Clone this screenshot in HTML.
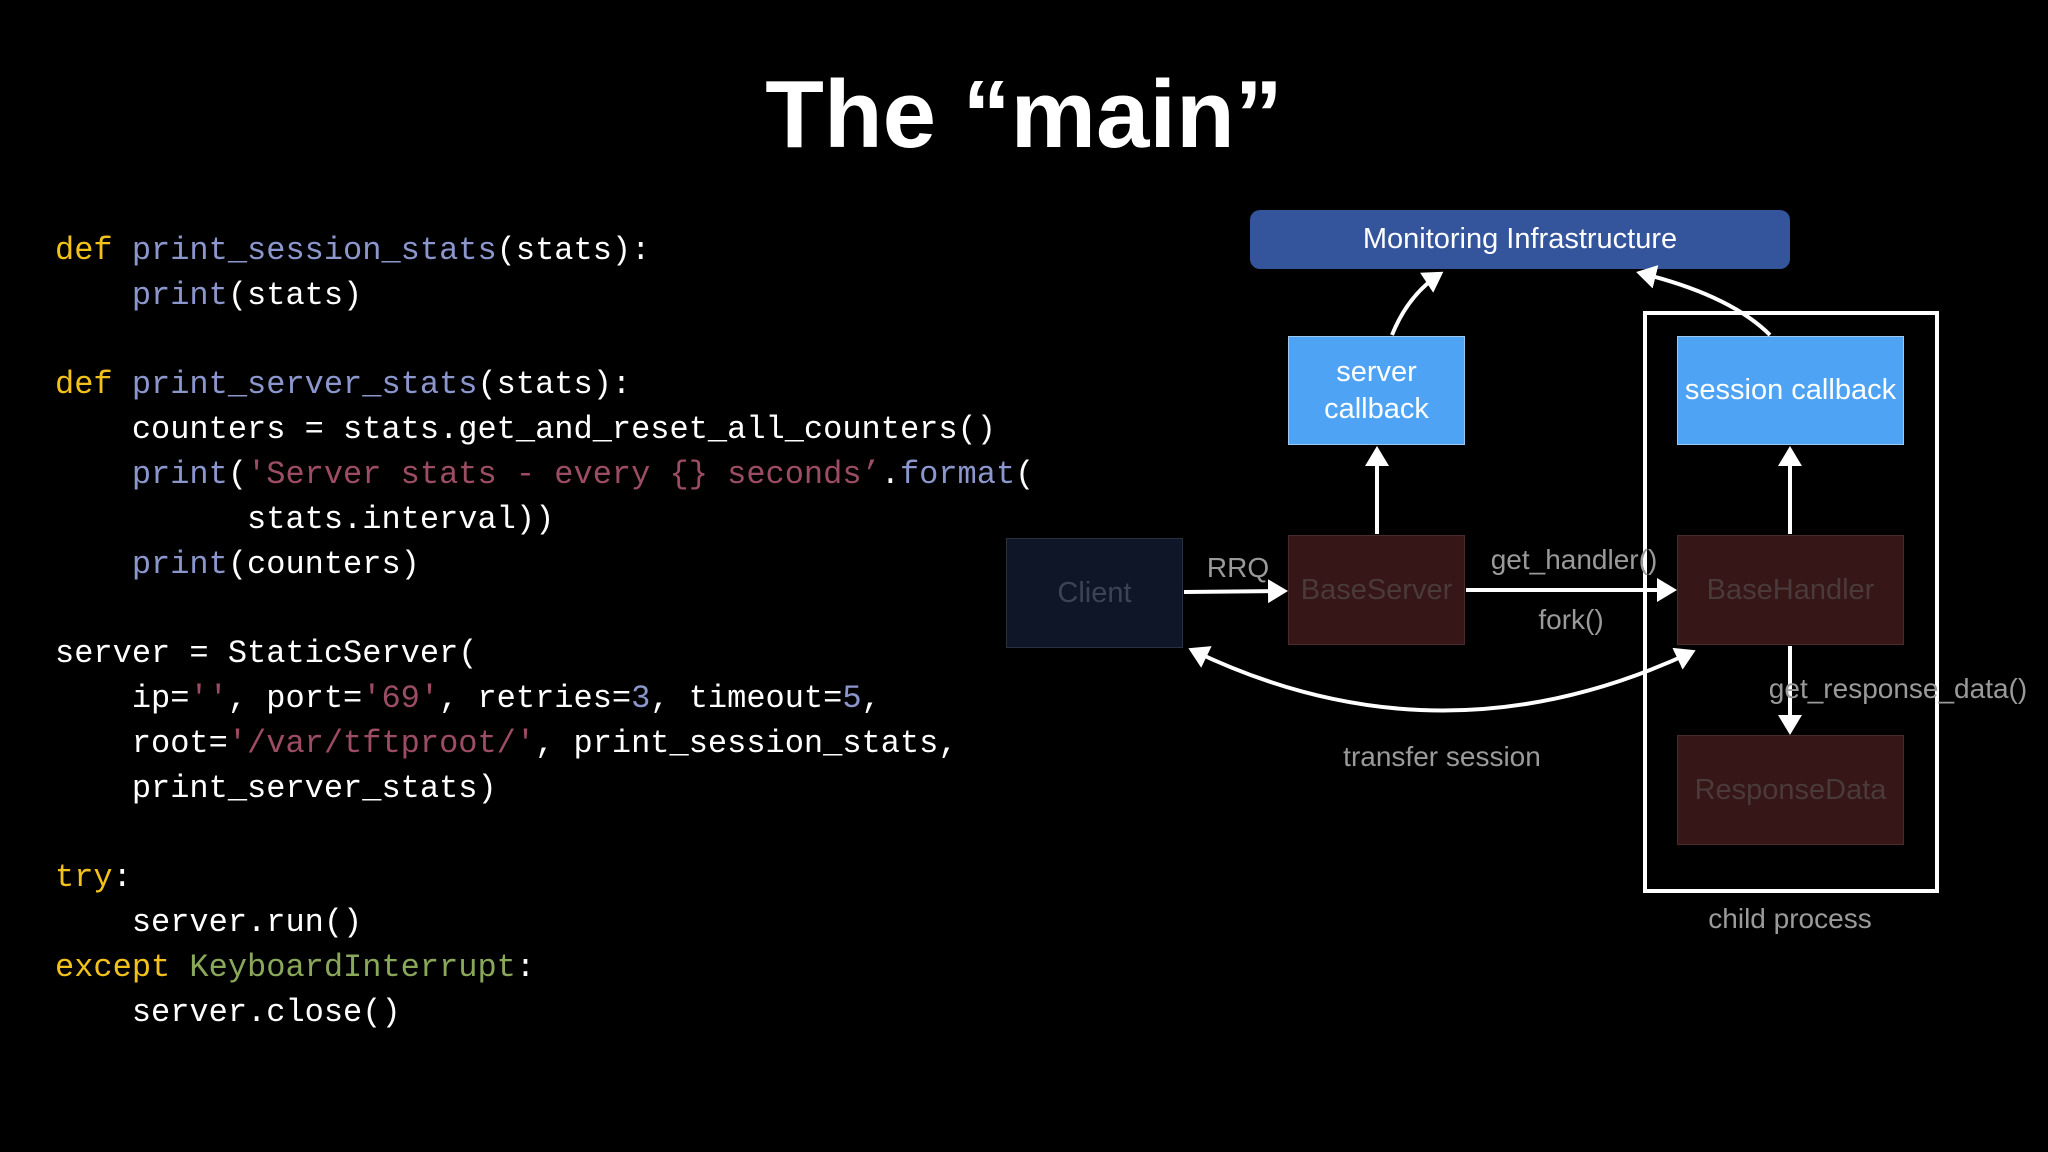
<!DOCTYPE html>
<html><head><meta charset="utf-8"><style>
html,body{margin:0;padding:0;background:#000;}
body{width:2048px;height:1152px;position:relative;overflow:hidden;font-family:"Liberation Sans",sans-serif;}
.t{position:absolute;left:0;width:2048px;top:60px;text-align:center;color:#fff;font-weight:bold;font-size:96px;}
pre{position:absolute;left:55px;top:229px;margin:0;font-family:"Liberation Mono",monospace;font-size:32px;line-height:44.8px;color:#fff;}
.k{color:#f2c21b}.f{color:#8b96cc}.s{color:#9c4d63}.g{color:#8aa85a}
.b{position:absolute;box-sizing:border-box;display:flex;align-items:center;justify-content:center;text-align:center;font-size:29px;line-height:37px;}
.l{position:absolute;color:#9a9a9a;font-size:28px;transform:translate(-50%,-50%);white-space:nowrap;}
</style></head><body>
<div class="t">The “main”</div>
<pre><span class="k">def</span> <span class="f">print_session_stats</span>(stats):
    <span class="f">print</span>(stats)

<span class="k">def</span> <span class="f">print_server_stats</span>(stats):
    counters = stats.get_and_reset_all_counters()
    <span class="f">print</span>(<span class="s">'Server stats - every {} seconds’</span>.<span class="f">format</span>(
          stats.interval))
    <span class="f">print</span>(counters)

server = StaticServer(
    ip=<span class="s">''</span>, port=<span class="s">'69'</span>, retries=<span class="f">3</span>, timeout=<span class="f">5</span>,
    root=<span class="s">'/var/tftproot/'</span>, print_session_stats,
    print_server_stats)

<span class="k">try</span>:
    server.run()
<span class="k">except</span> <span class="g">KeyboardInterrupt</span>:
    server.close()</pre>

<div class="b" style="left:1250px;top:210px;width:540px;height:59px;background:#34549b;border-radius:10px;color:#fff;">Monitoring Infrastructure</div>
<div class="b" style="left:1288px;top:336px;width:177px;height:109px;background:#4ea3f5;border:1px solid #9cc8f0;color:#fff;">server<br>callback</div>
<div class="b" style="left:1677px;top:336px;width:227px;height:109px;background:#4ea3f5;border:1px solid #9cc8f0;color:#fff;">session callback</div>
<div class="b" style="left:1006px;top:538px;width:177px;height:110px;background:#0f1627;border:1px solid #2a3040;color:#3c4454;">Client</div>
<div class="b" style="left:1288px;top:535px;width:177px;height:110px;background:#361616;border:1px solid #4a2a2a;color:#4a3a3a;">BaseServer</div>
<div class="b" style="left:1677px;top:535px;width:227px;height:110px;background:#361616;border:1px solid #4a2a2a;color:#4a3a3a;">BaseHandler</div>
<div class="b" style="left:1677px;top:735px;width:227px;height:110px;background:#361616;border:1px solid #4a2a2a;color:#4a3a3a;">ResponseData</div>
<div style="position:absolute;left:1643px;top:311px;width:296px;height:582px;box-sizing:border-box;border:4px solid #fff;"></div>

<svg width="2048" height="1152" style="position:absolute;left:0;top:0">
<defs><marker id="a" markerWidth="6" markerHeight="6" refX="4" refY="3" orient="auto" markerUnits="strokeWidth"><path d="M0,0L5,3L0,6z" fill="#fff"/></marker>
<marker id="as" markerWidth="6" markerHeight="6" refX="1" refY="3" orient="auto" markerUnits="strokeWidth"><path d="M5,0L0,3L5,6z" fill="#fff"/></marker></defs>
<g stroke="#fff" stroke-width="4" fill="none">
<path d="M1184,592L1284,591" marker-end="url(#a)"/>
<path d="M1466,590L1673,590" marker-end="url(#a)"/>
<path d="M1377,534L1377,450" marker-end="url(#a)"/>
<path d="M1790,534L1790,450" marker-end="url(#a)"/>
<path d="M1790,646L1790,731" marker-end="url(#a)"/>
<path d="M1192,650Q1440,770 1692,652" marker-start="url(#as)" marker-end="url(#a)"/>
<path d="M1392,335Q1408,295 1440,274" marker-end="url(#a)"/>
<path d="M1770,335Q1730,295 1640,273" marker-end="url(#a)"/>
</g></svg>
<div class="l" style="left:1238px;top:568px;">RRQ</div>
<div class="l" style="left:1574px;top:560px;">get_handler()</div>
<div class="l" style="left:1571px;top:620px;">fork()</div>
<div class="l" style="left:1898px;top:689px;">get_response_data()</div>
<div class="l" style="left:1442px;top:757px;">transfer session</div>
<div class="l" style="left:1790px;top:919px;">child process</div>
</body></html>
